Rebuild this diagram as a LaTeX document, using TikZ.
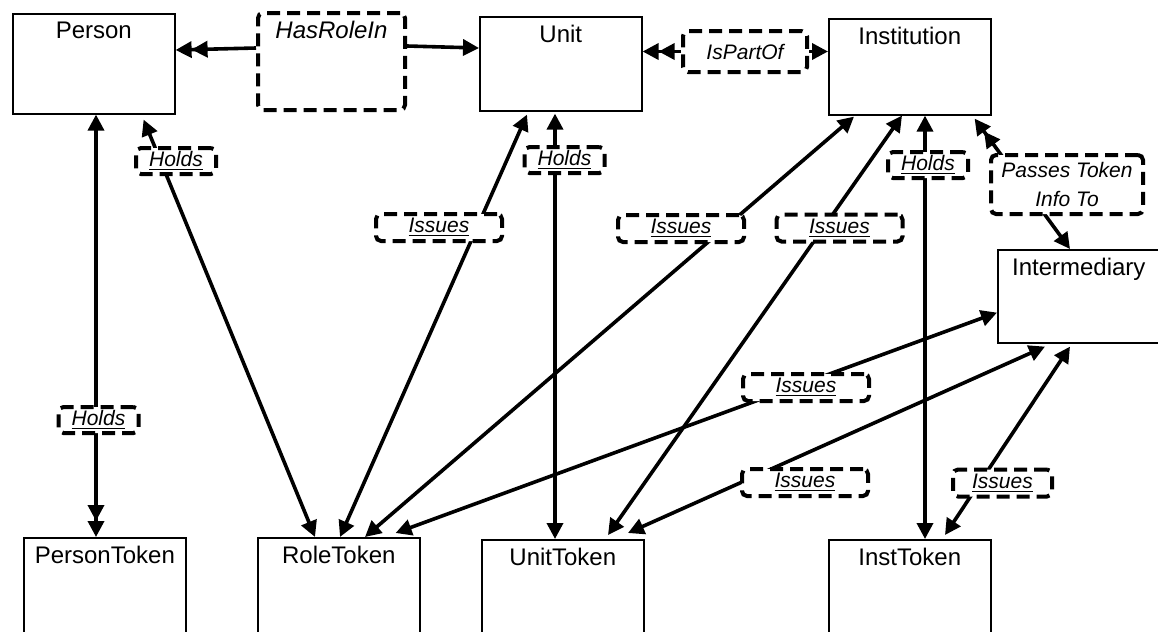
\documentclass[tikz,border=0pt]{standalone}
\usepackage{fontspec}
\setmainfont{Liberation Sans}
\usetikzlibrary{arrows.meta, backgrounds, calc, positioning}
\tikzset{
    entBox/.style={draw, line width=0.8pt, anchor=north west,
        minimum width=81pt, minimum height=47.5pt, inner sep=0pt},
    entName/.style={anchor=north, inner sep=4.5pt, font=\fontsize{12}{14}\selectfont},
    relBox/.style={draw, fill=white, line width=2pt, dash pattern=on 6.5pt off 3.5pt,
        rounded corners=2.5pt, inner sep=0pt, align=center,
        font=\fontsize{10.5}{14.5}\selectfont\itshape},
    relName/.style={anchor=north, inner sep=5pt, font=\fontsize{12}{14}\selectfont\itshape},
    holdsBox/.style={relBox, minimum width=40pt, minimum height=13pt},
    issuesBox/.style={relBox, minimum width=63pt, minimum height=13.5pt},
    relLink/.style={line width=1.8pt, >={Triangle[length=8pt,width=8pt]}}
}

\begin{document}
\begin{tikzpicture}[x=0.5pt, y=-0.5pt]
    \useasboundingbox (0,0) rectangle (1158,632);
    \clip (0,0) rectangle (1158,632);
    % entities
    \node[entBox, minimum height=50pt, label={[entName]north:Person}] (person) at (12,13) {};
    \node[entBox, minimum height=47pt, label={[entName]north:Unit}] (unit) at (479,16) {};
    \node[entBox, minimum height=48pt, label={[entName]north:Institution}] (inst) at (828,18) {};
    \node[entBox, minimum height=46.5pt, label={[entName]north:Intermediary}] (inter) at (997,249) {};
    \node[entBox, label={[entName]north:PersonToken}] (personT) at (23,537) {};
    \node[entBox, label={[entName]north:RoleToken}] (roleT) at (257,537) {};
    \node[entBox, label={[entName]north:UnitToken}] (unitT) at (481,539) {};
    \node[entBox, label={[entName]north:InstToken}] (instT) at (828,539) {};
    % relations
    \node[relBox, minimum width=73.5pt, minimum height=48.5pt,
        label={[relName]north:HasRoleIn}] (hasrole) at (331.5,61.5) {};
    \node[relBox, minimum width=62pt, minimum height=20.5pt] (ispart) at (745,51.5) {IsPartOf};
    \node[holdsBox] (holdsP) at (176,161) {\underline{Holds}};
    \node[holdsBox] (holdsPT) at (98.5,420) {\underline{Holds}};
    \node[holdsBox] (holdsU) at (564.5,160) {\underline{Holds}};
    \node[holdsBox] (holdsI) at (928,165) {\underline{Holds}};
    \node[issuesBox] (issuesU) at (439,227.5) {\underline{Issues}};
    \node[issuesBox] (issuesI1) at (681,228.5) {\underline{Issues}};
    \node[issuesBox] (issuesI2) at (839.5,228) {\underline{Issues}};
    \node[relBox, minimum width=76pt, minimum height=29.5pt] (passes) at (1067,184.5) {Passes Token\\Info To};
    \node[issuesBox] (issuesM1) at (806,387.5) {\underline{Issues}};
    \node[issuesBox] (issuesM2) at (805,482.5) {\underline{Issues}};
    \node[issuesBox, minimum width=49.5pt] (issuesM3) at (1002.5,483) {\underline{Issues}};
    \begin{scope}[on background layer]
    \fill[white] (0,0) rectangle (1158,632);
    \draw[relLink, ->>] ($(hasrole.north west)+(0,37)$) -- ($(person.north east)+(0,37)$);
    \draw[relLink, ->] ($(hasrole.north east)+(0,35)$) -- ($(unit.north west)+(0,32)$);
    \draw[relLink, ->>] (ispart.west) -- (ispart.west -| unit.east);
    \draw[relLink, ->] (ispart.east) -- (ispart.east -| inst.west);
    \draw[relLink, <->] ($(person.south east)+(-32,5)$) -- ($(roleT.north west)+(58,0)$);
    \draw[relLink, <->>] ($(person.south west)+(84,0)$) -- ($(personT.north west)+(73,0)$);
    \draw[relLink, <->] ($(unit.south west)+(48,3)$) -- ($(roleT.north west)+(83,0)$);
    \draw[relLink, <->] ($(unit.south west)+(76,2)$) -- ($(unitT.north west)+(74,0)$);
    \draw[relLink, <->] ($(inst.south west)+(26,1)$) -- ($(roleT.north west)+(108,0)$);
    \draw[relLink, <->] ($(inst.south west)+(74,0)$) -- ($(unitT.north west)+(127,-4)$);
    \draw[relLink, <->] ($(inst.south west)+(97,0)$) -- ($(instT.north west)+(97,0)$);
    \draw[relLink, <<->] ($(inst.south east)+(-17,3)$) -- ($(inter.north west)+(73,0)$);
    \draw[relLink, <->] ($(inter.south west)+(0,-31)$) -- ($(roleT.north east)+(-25,-4)$);
    \draw[relLink, <->] ($(inter.south west)+(48,3)$) -- ($(unitT.north west)+(147,-6)$);
    \draw[relLink, <->] ($(inter.south west)+(73,3)$) -- ($(instT.north west)+(117,-4)$);
    \end{scope}
\end{tikzpicture}
\end{document}
